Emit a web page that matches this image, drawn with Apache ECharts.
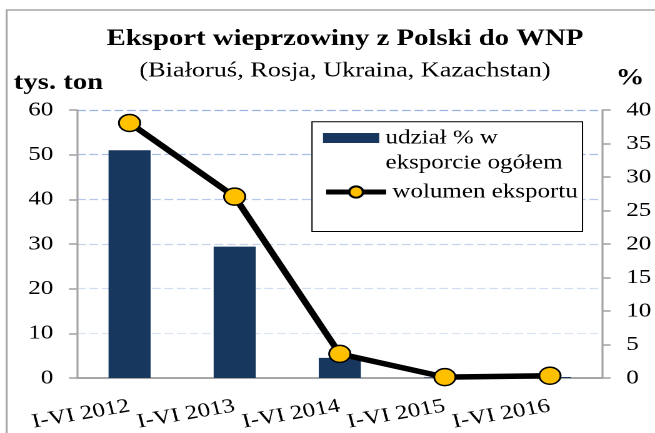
<!DOCTYPE html>
<html>
<head>
<meta charset="utf-8">
<script src="https://cdn.jsdelivr.net/npm/echarts@6/dist/echarts.min.js"></script>
<style>
  html, body { margin: 0; padding: 0; background: #fff; overflow: hidden; width: 655px; height: 433px; }
  /* the chart is laid out narrow and widened horizontally, giving the stretched serif look */
  #chart { width: 524px; height: 433px; transform: scaleX(1.25); transform-origin: 0 0; }
</style>
</head>
<body>
<div id="chart"></div>
<script>
// Half-year periods
const categories = ['I-VI 2012', 'I-VI 2013', 'I-VI 2014', 'I-VI 2015', 'I-VI 2016'];
// Share of CIS in total pork exports, %
const udzialProcent = [34.0, 19.6, 3.0, 0.1, 0.15];
// Export volume, thousand tonnes
const wolumenTysTon = [57.1, 40.6, 5.4, 0.2, 0.5];
// Axis ranges: [min, max, step]
const tonAxis = [0, 60, 10];
const procentAxis = [0, 40, 5];

const serif = '"Liberation Serif", "Times New Roman", serif';
const gray = '#a6a6a6';
const barName = 'udział % w\neksporcie ogółem';
const lineName = 'wolumen eksportu';
const legendText = { fontFamily: serif, fontSize: 20, lineHeight: 25, color: '#000' };

const chart = echarts.init(document.getElementById('chart'), null, { renderer: 'canvas', devicePixelRatio: 2 });

chart.setOption({
  animation: false,
  backgroundColor: '#fff',
  graphic: [{
    type: 'rect', silent: true, z: -10,
    shape: { x: 5.3, y: 10, width: 700, height: 600 },
    style: { fill: 'none', stroke: gray, lineWidth: 1.6 }
  }],
  title: {
    text: 'Eksport wieprzowiny z Polski do WNP',
    subtext: '(Białoruś, Rosja, Ukraina, Kazachstan)',
    left: 276, top: 27.4, textAlign: 'center', padding: 0, itemGap: 10,
    textStyle: { fontFamily: serif, fontSize: 23, fontWeight: 'bold', color: '#000', lineHeight: 23 },
    subtextStyle: { fontFamily: serif, fontSize: 21, color: '#000', lineHeight: 21 }
  },
  legend: [{
    // framed box; the bar swatch sits level with the first text line
    orient: 'vertical', left: 249.6, top: 121.7, z: 5,
    itemWidth: 45, itemHeight: 50,
    padding: [3.8, 16, 56, 8.8],
    backgroundColor: '#fff', borderColor: '#000', borderWidth: 1,
    textStyle: legendText,
    data: [{ name: barName, icon: 'path://M0,0M0,7.5L45,7.5L45,17.5L0,17.5ZM0,50' }]
  }, {
    orient: 'vertical', left: 258.4, top: 179.5, z: 6,
    itemWidth: 48, itemHeight: 14, padding: 0,
    textStyle: legendText,
    lineStyle: { width: 5, color: '#000' },
    data: [{ name: lineName }]
  }],
  grid: { left: 61.6, right: 37.6, top: 110, bottom: 55 },
  xAxis: {
    type: 'category', data: categories,
    axisLine: { lineStyle: { color: gray, width: 2 } },
    axisTick: { length: 5, lineStyle: { color: gray, width: 1.6 } },
    axisLabel: { fontFamily: serif, fontSize: 20, color: '#000', rotate: 12, margin: 28, interval: 0 }
  },
  yAxis: [{
    type: 'value', min: tonAxis[0], max: tonAxis[1], interval: tonAxis[2],
    name: 'tys. ton', nameLocation: 'end', nameGap: 15.6,
    nameTextStyle: { fontFamily: serif, fontSize: 23, fontWeight: 'bold', color: '#000', lineHeight: 23, padding: [0, 29.6, 0, 0] },
    axisLine: { show: true, lineStyle: { color: gray, width: 1.6 } },
    axisTick: { show: true, length: 6.4, lineStyle: { color: gray, width: 1.6 } },
    axisLabel: { fontFamily: serif, fontSize: 20, color: '#000', margin: 19 },
    splitLine: { show: true, lineStyle: { type: [7, 3], width: 1.3,
      color: ['#dfe7f5', '#dde5f5', '#d1ddf2', '#c4d4ee', '#b6c9ea', '#a8bee6', '#9ab4e2'] } }
  }, {
    type: 'value', position: 'right', min: procentAxis[0], max: procentAxis[1], interval: procentAxis[2],
    name: '%', nameLocation: 'end', nameGap: 20,
    nameTextStyle: { fontFamily: serif, fontSize: 23, fontWeight: 'bold', color: '#000', lineHeight: 23, padding: [0, 0, 0, 44] },
    axisLine: { show: true, lineStyle: { color: gray, width: 1.6 } },
    axisTick: { show: true, length: 6.4, lineStyle: { color: gray, width: 1.6 } },
    axisLabel: { fontFamily: serif, fontSize: 20, color: '#000', margin: 19 },
    splitLine: { show: false }
  }],
  series: [{
    name: barName, type: 'bar', yAxisIndex: 1, data: udzialProcent,
    barWidth: '40%', itemStyle: { color: '#17375e' }, z: 2
  }, {
    name: lineName, type: 'line', yAxisIndex: 0, data: wolumenTysTon,
    symbol: 'circle', symbolSize: 17, z: 3,
    lineStyle: { color: '#000', width: 5.5 },
    itemStyle: { color: '#ffc000', borderColor: '#000', borderWidth: 1.5 }
  }]
});
</script>
</body>
</html>
